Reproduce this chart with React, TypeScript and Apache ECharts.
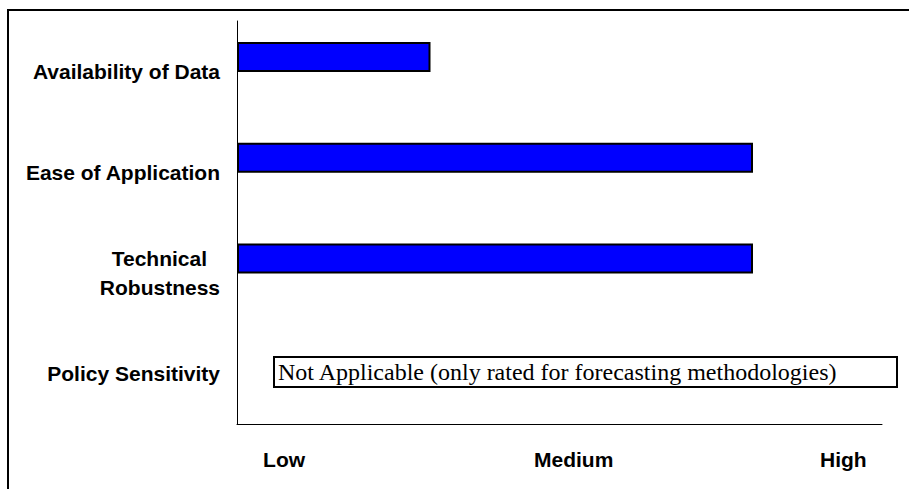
import React, { useEffect, useRef } from "react";
import * as echarts from "echarts";

const categories = [
  "Availability of Data",
  "Ease of Application",
  "Technical Robustness",
  "Policy Sensitivity",
];
const ratings: (number | string)[] = [3, 8, 8, "-"];
const tickLabels = ["Low", "Medium", "High"];
const tickValues = [0.73, 5.22, 9.4];
const noteText = "Not Applicable (only rated for forecasting methodologies)";

export default function App() {
  const ref = useRef<HTMLDivElement>(null);
  useEffect(() => {
    if (!ref.current) return;
    const chart = echarts.init(ref.current, undefined, { renderer: "svg" });
    chart.setOption({
      animation: false,
      backgroundColor: "#ffffff",
      grid: { left: 237, right: 27, top: 21, bottom: 65, containLabel: false },
      xAxis: {
        type: "value",
        min: 0,
        max: 10,
        splitLine: { show: false },
        axisTick: { show: false },
        axisLine: { show: true, lineStyle: { color: "#000", width: 1 } },
        axisLabel: {
          customValues: tickValues,
          formatter: (v: number) => {
            const i = tickValues.findIndex((t) => Math.abs(t - v) < 1e-6);
            return i >= 0 ? tickLabels[i] : "";
          },
          color: "#000",
          fontFamily: "Liberation Sans, Arial, sans-serif",
          fontWeight: "bold",
          fontSize: 21,
          margin: 25,
        },
      },
      yAxis: {
        type: "category",
        inverse: true,
        data: categories,
        axisTick: { show: false },
        axisLine: { show: true, lineStyle: { color: "#000", width: 1 } },
        axisLabel: {
          color: "#000",
          fontFamily: "Liberation Sans, Arial, sans-serif",
          fontWeight: "bold",
          fontSize: 21,
          margin: 17,
          formatter: (v: string) => {
            if (v === "Technical Robustness") return "{t|Technical}\n{r|Robustness}";
            return "{r|" + v + "}";
          },
          rich: {
            t: {
              fontFamily: "Liberation Sans, Arial, sans-serif",
              fontWeight: "bold",
              fontSize: 21,
              color: "#000",
              lineHeight: 29,
              padding: [0, 13, 0, 0],
            },
            r: {
              fontFamily: "Liberation Sans, Arial, sans-serif",
              fontWeight: "bold",
              fontSize: 21,
              color: "#000",
              lineHeight: 29,
            },
          },
        },
      },
      series: [
        {
          type: "bar",
          data: ratings,
          barWidth: 30,
          barGap: "-4%",
          itemStyle: { color: "#0000ff", borderColor: "#000", borderWidth: 2 },
          silent: true,
        },
        {
          type: "bar",
          data: ["-", "-", "-", "-"],
          barWidth: 30,
          barGap: "-4%",
          itemStyle: { color: "transparent" },
          silent: true,
        },
      ],
      graphic: [
        {
          type: "line",
          shape: { x1: 8, y1: 10, x2: 8, y2: 489 },
          style: { stroke: "#000", lineWidth: 2 },
        },
        {
          type: "line",
          shape: { x1: 7, y1: 10, x2: 909, y2: 10 },
          style: { stroke: "#000", lineWidth: 2 },
        },
        {
          type: "rect",
          shape: { x: 274, y: 357, width: 623, height: 30 },
          style: { fill: "#fff", stroke: "#000", lineWidth: 2 },
        },
        {
          type: "text",
          x: 278,
          y: 372,
          style: {
            text: noteText,
            font: "24px 'Liberation Serif', 'Times New Roman', serif",
            fill: "#000",
            verticalAlign: "middle",
            align: "left",
          },
        },
      ],
    });
    return () => chart.dispose();
  }, []);
  return (
    <div
      ref={ref}
      style={{ position: "absolute", left: 0, top: 0, width: 909, height: 489 }}
    />
  );
}
